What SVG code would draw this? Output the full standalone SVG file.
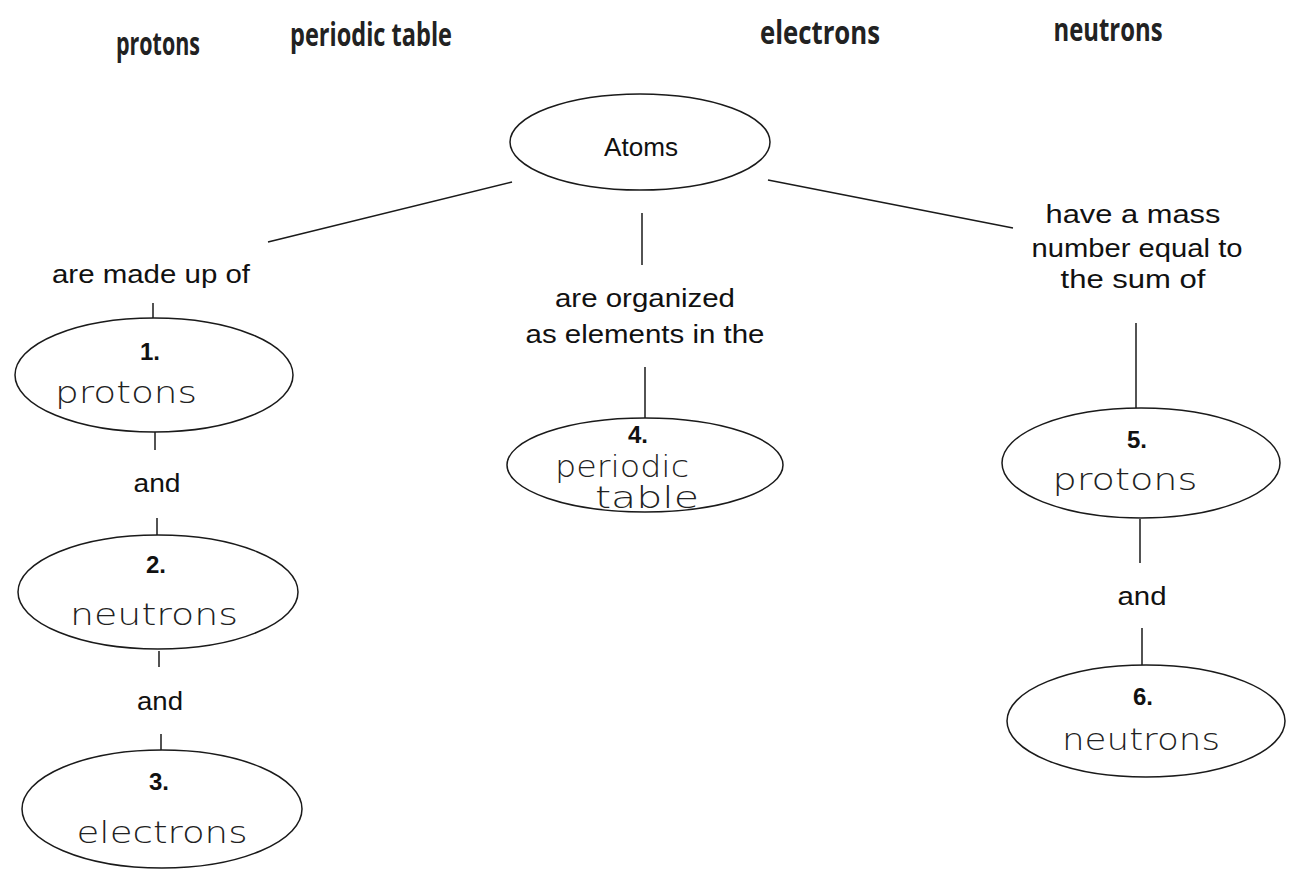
<svg xmlns="http://www.w3.org/2000/svg" width="1291" height="878" viewBox="0 0 1291 878">
<style>
.bg{fill:#fff}
.node{fill:none;stroke:#1a1a1a;stroke-width:1.5}
.conn line{stroke:#1a1a1a;stroke-width:1.5}
.lbl{font-family:"Liberation Sans",Arial,sans-serif;font-size:25px;fill:#111;text-anchor:middle}
.num{font-family:"Liberation Sans",Arial,sans-serif;font-size:24px;font-weight:bold;fill:#111;text-anchor:middle}
.hw{font-family:"DejaVu Sans","Liberation Sans",sans-serif;font-weight:200;font-size:30px;fill:#222;text-anchor:middle}
.bank{font-family:"Open Sans","Liberation Sans",sans-serif;font-weight:bold;font-size:32px;fill:#222;text-anchor:middle}
</style>
<rect class="bg" width="1291" height="878"/>
<g id="word-bank">
<text class="bank" x="158" y="55" textLength="84" lengthAdjust="spacingAndGlyphs">protons</text>
<text class="bank" x="371" y="46" textLength="162" lengthAdjust="spacingAndGlyphs">periodic table</text>
<text class="bank" x="820" y="44" textLength="120" lengthAdjust="spacingAndGlyphs">electrons</text>
<text class="bank" x="1108" y="41" textLength="109" lengthAdjust="spacingAndGlyphs">neutrons</text>
</g>
<g id="connectors" class="conn">
<line x1="512" y1="182" x2="268" y2="242"/>
<line x1="768" y1="180" x2="1013" y2="228"/>
<line x1="642" y1="213" x2="642" y2="265"/>
<line x1="153" y1="303" x2="153" y2="318"/>
<line x1="155" y1="432" x2="155" y2="450"/>
<line x1="157" y1="518" x2="157" y2="535"/>
<line x1="159" y1="651" x2="159" y2="667"/>
<line x1="161" y1="734" x2="161" y2="750"/>
<line x1="645" y1="367" x2="645" y2="418"/>
<line x1="1136" y1="323" x2="1136" y2="408"/>
<line x1="1140" y1="519" x2="1140" y2="563"/>
<line x1="1142" y1="628" x2="1142" y2="665"/>
</g>
<g id="atoms">
<ellipse class="node" cx="640" cy="142" rx="130" ry="48"/>
<text class="lbl" x="641" y="156" font-size="23" textLength="74" lengthAdjust="spacingAndGlyphs">Atoms</text>
</g>
<g id="label-made-up">
<text class="lbl" x="151" y="283" textLength="198" lengthAdjust="spacingAndGlyphs">are made up of</text>
</g>
<g id="n1">
<ellipse class="node" cx="154" cy="375" rx="139" ry="57"/>
<text class="num" x="150" y="360">1.</text>
<text class="hw" x="126" y="403" textLength="142" lengthAdjust="spacingAndGlyphs">protons</text>
</g>
<g id="and1"><text class="lbl" x="157" y="492" textLength="47" lengthAdjust="spacingAndGlyphs">and</text></g>
<g id="n2">
<ellipse class="node" cx="158" cy="592" rx="140" ry="57"/>
<text class="num" x="156" y="573">2.</text>
<text class="hw" x="154" y="625" textLength="168" lengthAdjust="spacingAndGlyphs">neutrons</text>
</g>
<g id="and2"><text class="lbl" x="160" y="710" textLength="46" lengthAdjust="spacingAndGlyphs">and</text></g>
<g id="n3">
<ellipse class="node" cx="162" cy="809" rx="140" ry="59"/>
<text class="num" x="159" y="790">3.</text>
<text class="hw" x="162" y="843" textLength="171" lengthAdjust="spacingAndGlyphs">electrons</text>
</g>
<g id="label-organized">
<text class="lbl" x="645" y="307" textLength="180" lengthAdjust="spacingAndGlyphs">are organized</text>
<text class="lbl" x="645" y="343" textLength="239" lengthAdjust="spacingAndGlyphs">as elements in the</text>
</g>
<g id="n4">
<ellipse class="node" cx="645" cy="465" rx="138" ry="47"/>
<text class="num" x="638" y="443">4.</text>
<text class="hw" x="622" y="477" font-size="19" textLength="134" lengthAdjust="spacingAndGlyphs">periodic</text>
<text class="hw" x="647" y="508" font-size="19" textLength="104" lengthAdjust="spacingAndGlyphs">table</text>
</g>
<g id="label-mass">
<text class="lbl" x="1133" y="223" textLength="175" lengthAdjust="spacingAndGlyphs">have a mass</text>
<text class="lbl" x="1137" y="257" textLength="211" lengthAdjust="spacingAndGlyphs">number equal to</text>
<text class="lbl" x="1133" y="288" textLength="145" lengthAdjust="spacingAndGlyphs">the sum of</text>
</g>
<g id="n5">
<ellipse class="node" cx="1141" cy="463" rx="139" ry="55"/>
<text class="num" x="1137" y="448">5.</text>
<text class="hw" x="1125" y="490" textLength="145" lengthAdjust="spacingAndGlyphs">protons</text>
</g>
<g id="and3"><text class="lbl" x="1142" y="605" textLength="49" lengthAdjust="spacingAndGlyphs">and</text></g>
<g id="n6">
<ellipse class="node" cx="1146" cy="721" rx="139" ry="56"/>
<text class="num" x="1143" y="705">6.</text>
<text class="hw" x="1141" y="750" textLength="158" lengthAdjust="spacingAndGlyphs">neutrons</text>
</g>
</svg>
